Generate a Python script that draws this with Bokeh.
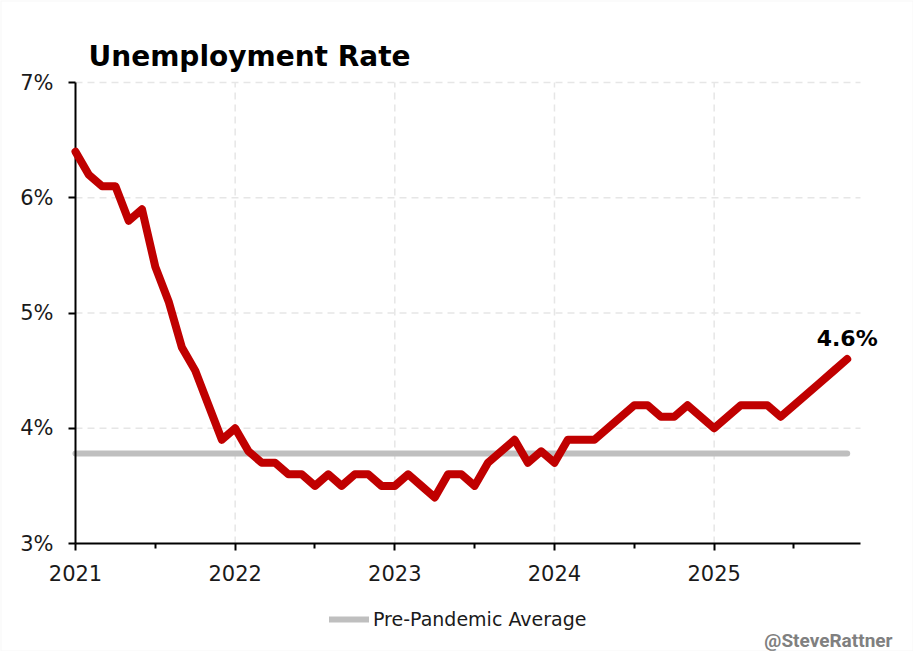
from bokeh.plotting import figure
from bokeh.models import (FixedTicker, Label, Legend, LegendItem, CustomJSTickFormatter,
                          Range1d, BoxAnnotation)
from bokeh.embed import file_html
from bokeh.resources import INLINE

# ---- data ----
years = [2021, 2022, 2023, 2024, 2025]
rate_2021 = [6.4, 6.2, 6.1, 6.1, 5.8, 5.9, 5.4, 5.1, 4.7, 4.5, 4.2, 3.9]
rate_2022 = [4.0, 3.8, 3.7, 3.7, 3.6, 3.6, 3.5, 3.6, 3.5, 3.6, 3.6, 3.5]
rate_2023 = [3.5, 3.6, 3.5, 3.4, 3.6, 3.6, 3.5, 3.7, 3.8, 3.9, 3.7, 3.8]
rate_2024 = [3.7, 3.9, 3.9, 3.9, 4.0, 4.1, 4.2, 4.2, 4.1, 4.1, 4.2, 4.1]
rate_2025 = [4.0, 4.1, 4.2, 4.2, 4.2, 4.1, 4.2, 4.3, 4.4, 4.5, 4.6]
pre_pandemic_avg = 3.78
y_ticks = [3, 4, 5, 6, 7]

rates = rate_2021 + rate_2022 + rate_2023 + rate_2024 + rate_2025
months = list(range(len(rates)))  # months since Jan 2021
x_min, x_max = 0, 59              # axis extent (Jan 2021 .. Dec 2025)
y_min, y_max = y_ticks[0], y_ticks[-1]

# ---- layout (pixels) ----
W, H = 913, 651
AX_L, AX_R, AX_T, AX_B = 75, 860, 82, 543   # pixel box of the axes
FONT = "DejaVu Sans"

kx = (AX_R - AX_L) / (x_max - x_min)
ky = (AX_B - AX_T) / (y_max - y_min)
x_range = Range1d(x_min - AX_L / kx, x_max + (W - AX_R) / kx)
y_range = Range1d(y_min - (H - AX_B) / ky, y_max + AX_T / ky)

p = figure(width=W, height=H, output_backend="svg", toolbar_location=None,
           x_range=x_range, y_range=y_range, min_border=0)
p.background_fill_color = "white"
p.border_fill_color = "white"
p.outline_line_color = None
p.xgrid.visible = False
p.ygrid.visible = False

# dashed grid lines limited to the axes box
year_ticks = [12 * i for i in range(len(years))]
p.segment(x0=year_ticks[1:], x1=year_ticks[1:], y0=[y_min] * 4, y1=[y_max] * 4,
          line_color="#e6e6e6", line_width=1.5, line_dash="7 5")
p.segment(x0=[x_min] * 4, x1=[x_max] * 4, y0=y_ticks[1:], y1=y_ticks[1:],
          line_color="#e6e6e6", line_width=1.5, line_dash="7 5")

# axes placed inside the (full-canvas) frame
p.xaxis.fixed_location = y_min
p.yaxis.fixed_location = x_min
p.xaxis.bounds = (x_min, x_max)
p.yaxis.bounds = (y_min, y_max)
p.xaxis.ticker = FixedTicker(ticks=year_ticks, minor_ticks=[t + 6 for t in year_ticks])
p.xaxis.major_label_overrides = {12 * i: str(y) for i, y in enumerate(years)}
p.yaxis.ticker = FixedTicker(ticks=y_ticks)
p.yaxis.formatter = CustomJSTickFormatter(code="return tick.toFixed(0) + '%';")
for ax in (p.xaxis, p.yaxis):
    ax.axis_line_width = 2
    ax.axis_line_color = "black"
    ax.major_tick_line_width = 2
    ax.major_tick_line_color = "black"
    ax.major_tick_in = 0
    ax.major_tick_out = 7
    ax.major_label_text_font = FONT
    ax.major_label_text_font_size = "21px"
    ax.major_label_text_color = "#1a1a1a"
p.xaxis.minor_tick_line_width = 2
p.xaxis.minor_tick_line_color = "black"
p.xaxis.minor_tick_in = 0
p.xaxis.minor_tick_out = 5
p.xaxis.major_label_standoff = 14
p.yaxis.minor_tick_line_color = None
p.yaxis.major_label_standoff = 15

# lines
avg = p.line([months[0], months[-1]], [pre_pandemic_avg, pre_pandemic_avg],
             line_color="#bfbfbf", line_width=6, line_cap="round")
p.line(months, rates, line_color="#c00000", line_width=8, line_cap="round",
       line_join="round", level="overlay")

# texts
p.add_layout(Label(x=88, y=H - 56, x_units="screen", y_units="screen",
                   text="Unemployment Rate", text_font=FONT, text_font_style="bold",
                   text_font_size="28px", text_color="black", text_baseline="alphabetic"))
p.add_layout(Label(x=months[-1], y=rates[-1], y_offset=21, text=f"{rates[-1]:.1f}%",
                   text_font=FONT, text_font_style="bold", text_font_size="22px",
                   text_color="black", text_align="center", text_baseline="alphabetic"))
p.add_layout(Label(x=892, y=H - 640, x_units="screen", y_units="screen", text="@SteveRattner",
                   text_font="Roboto", text_font_style="bold", text_font_size="19px",
                   text_color="#808080", text_align="right", text_baseline="alphabetic"))

legend = Legend(items=[LegendItem(label="Pre-Pandemic Average", renderers=[avg])],
                location=(329, H - 630), orientation="horizontal",
                label_text_font=FONT, label_text_font_size="19px", label_text_color="#1a1a1a",
                glyph_width=40, glyph_height=22, label_height=22, label_standoff=4,
                padding=0, margin=0, spacing=0,
                border_line_color=None, background_fill_alpha=0)
p.add_layout(legend, "center")

# light frame around the picture
p.add_layout(BoxAnnotation(fill_alpha=0, line_color="#e3e3e3", line_width=2))

open("out.html", "w").write(file_html(p, INLINE))
